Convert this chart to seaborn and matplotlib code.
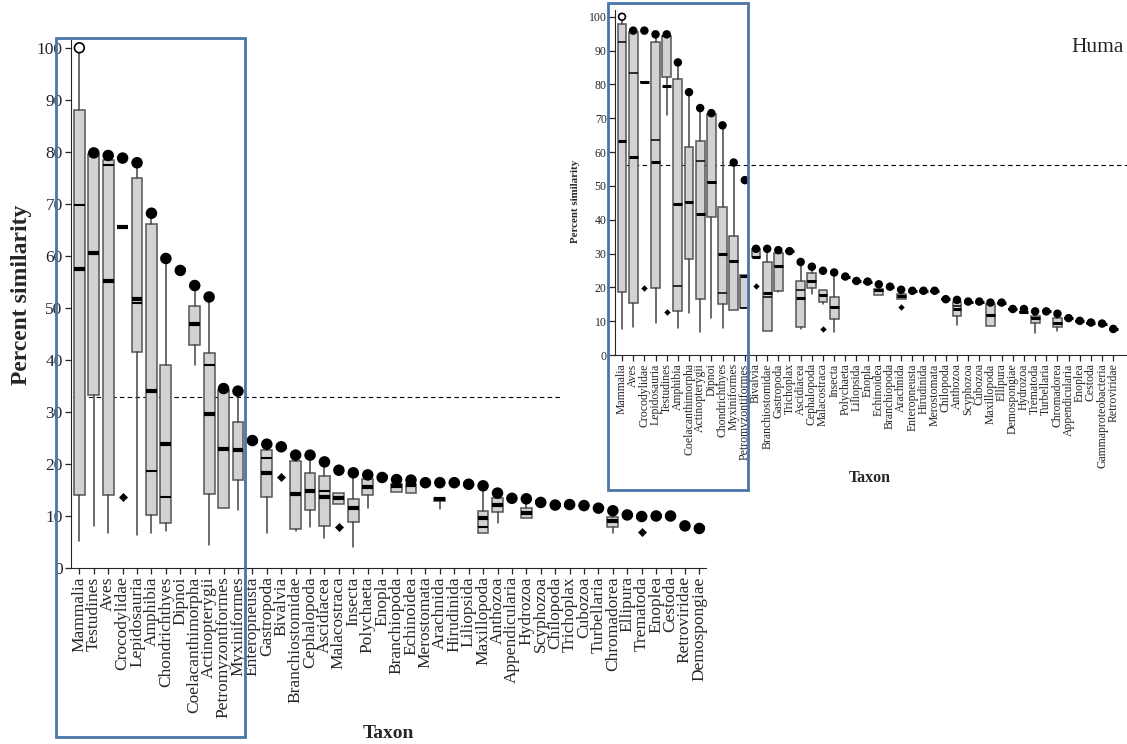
import numpy as np
import pandas as pd
import matplotlib
matplotlib.use("Agg")
import matplotlib.pyplot as plt
import seaborn as sns
from matplotlib.patches import Rectangle

# ---------------- left panel ----------------
left_taxa = ["Mammalia", "Testudines", "Aves", "Crocodylidae", "Lepidosauria", "Amphibia",
             "Chondrichthyes", "Dipnoi", "Coelacanthimorpha", "Actinopterygii",
             "Petromyzontiformes", "Myxiniformes", "Enteropneusta", "Gastropoda", "Bivalvia",
             "Branchiostomidae", "Cephalopoda", "Ascidiacea", "Malacostraca", "Insecta",
             "Polychaeta", "Enopla", "Branchiopoda", "Echinoidea", "Merostomata", "Arachnida",
             "Hirudinida", "Liliopsida", "Maxillopoda", "Anthozoa", "Appendicularia", "Hydrozoa",
             "Scyphozoa", "Chilopoda", "Trichoplax", "Cubozoa", "Turbellaria", "Chromadorea",
             "Ellipura", "Trematoda", "Enoplea", "Cestoda", "Retroviridae", "Demospongiae"]
left_top = [100, 79.8, 79.3, 78.8, 77.9, 68.2, 59.5, 57.2, 54.3, 52.1, 34.5, 34.0, 24.5, 23.8,
            23.3, 21.7, 21.7, 20.4, 18.8, 18.3, 17.9, 17.4, 17.0, 16.9, 16.4, 16.4, 16.4, 16.1,
            15.8, 14.4, 13.4, 13.3, 12.6, 12.1, 12.2, 12.0, 11.5, 11.0, 10.2, 9.9, 10.0, 10.0,
            8.1, 7.6]
left_open = ["Mammalia"]

left_box_taxa = ["Mammalia", "Testudines", "Aves", "Crocodylidae", "Lepidosauria", "Amphibia",
                 "Chondrichthyes", "Coelacanthimorpha", "Actinopterygii", "Petromyzontiformes",
                 "Myxiniformes", "Gastropoda", "Branchiostomidae", "Cephalopoda", "Ascidiacea",
                 "Malacostraca", "Insecta", "Polychaeta", "Branchiopoda", "Echinoidea",
                 "Arachnida", "Maxillopoda", "Anthozoa", "Hydrozoa", "Chromadorea"]
left_q1 = [14.0, 33.3, 14.0, 65.5, 41.6, 10.2, 8.7, 42.8, 14.2, 11.6, 16.9, 13.7, 7.5, 11.2,
           8.1, 12.3, 8.8, 14.0, 14.7, 14.4, 12.9, 6.7, 10.7, 9.7, 7.9]
left_q3 = [88.1, 79.5, 78.4, 65.5, 75.0, 66.2, 39.1, 50.4, 41.4, 34.2, 28.1, 22.7, 20.6, 18.2,
           17.7, 14.4, 13.2, 17.2, 16.2, 16.2, 13.4, 11.0, 13.4, 11.5, 9.9]
left_mean = [57.4, 60.6, 55.2, 65.5, 51.8, 34.1, 23.8, 46.9, 29.6, 22.9, 22.6, 18.3, 14.2, 14.8,
             13.6, 13.4, 11.6, 15.5, 15.8, 15.9, 13.2, 9.7, 12.1, 10.6, 9.1]
left_med = [69.7, 60.6, 77.5, 65.5, 50.9, 18.6, 13.6, 46.9, 39.1, 22.9, 22.6, 21.1, 14.2, 14.8,
            14.8, 13.4, 11.6, 15.5, 15.8, 15.9, 13.2, 7.9, 12.1, 10.6, 9.1]
left_lo = [5.2, 8.0, 6.8, 65.5, 6.4, 6.8, 7.1, 39.1, 4.5, 11.6, 11.2, 6.8, 7.2, 7.9, 5.7, 12.3,
           4.1, 11.5, 14.7, 14.4, 11.3, 6.7, 8.6, 9.7, 6.7]
left_hi = [100, 79.8, 79.3, 65.5, 77.9, 68.2, 59.5, 54.3, 52.1, 34.5, 34.0, 23.8, 21.7, 21.7,
           20.4, 14.4, 18.3, 17.9, 17.0, 16.9, 13.4, 15.8, 14.4, 13.3, 11.0]
left_out_taxa = ["Crocodylidae", "Bivalvia", "Malacostraca", "Trematoda"]
left_out = [13.6, 17.4, 7.9, 7.0]
left_ref = 32.9

# ---------------- right panel ----------------
right_taxa = ["Mammalia", "Aves", "Crocodylidae", "Lepidosauria", "Testudines", "Amphibia",
              "Coelacanthimorpha", "Actinopterygii", "Dipnoi", "Chondrichthyes", "Myxiniformes",
              "Petromyzontiformes", "Bivalvia", "Branchiostomidae", "Gastropoda", "Trichoplax",
              "Ascidiacea", "Cephalopoda", "Malacostraca", "Insecta", "Polychaeta", "Liliopsida",
              "Enopla", "Echinoidea", "Branchiopoda", "Arachnida", "Enteropneusta", "Hirudinida",
              "Merostomata", "Chilopoda", "Anthozoa", "Scyphozoa", "Cubozoa", "Maxillopoda",
              "Ellipura", "Demospongiae", "Hydrozoa", "Trematoda", "Turbellaria", "Chromadorea",
              "Appendicularia", "Enoplea", "Cestoda", "Gammaproteobacteria", "Retroviridae"]
right_top = [100, 95.9, 95.9, 94.8, 94.8, 86.5, 77.7, 73.0, 71.5, 67.9, 56.9, 51.7, 31.4, 31.4,
             31.0, 30.7, 27.5, 26.1, 24.9, 24.4, 23.2, 21.9, 21.7, 20.9, 20.2, 19.3, 19.0, 19.0,
             19.0, 16.5, 16.3, 15.8, 15.8, 15.5, 15.5, 13.6, 13.6, 12.9, 12.9, 12.2, 10.9, 10.1,
             9.6, 9.3, 7.7]
right_open = ["Mammalia"]

right_box_taxa = ["Mammalia", "Aves", "Crocodylidae", "Lepidosauria", "Testudines", "Amphibia",
                  "Coelacanthimorpha", "Actinopterygii", "Dipnoi", "Chondrichthyes",
                  "Myxiniformes", "Petromyzontiformes", "Bivalvia", "Branchiostomidae",
                  "Gastropoda", "Ascidiacea", "Cephalopoda", "Malacostraca", "Insecta",
                  "Echinoidea", "Arachnida", "Anthozoa", "Maxillopoda", "Hydrozoa", "Trematoda",
                  "Chromadorea"]
right_q1 = [18.5, 15.3, 80.7, 19.8, 82.3, 13.1, 28.5, 16.7, 40.9, 15.1, 13.4, 13.8, 29.1, 7.0,
            18.9, 8.2, 19.7, 15.8, 10.6, 17.8, 16.5, 11.6, 8.6, 12.6, 9.6, 8.4]
right_q3 = [98.0, 95.6, 80.7, 92.4, 94.4, 81.5, 61.4, 63.2, 71.2, 43.8, 35.1, 23.6, 31.2, 27.5,
            30.3, 21.9, 24.1, 19.2, 17.2, 19.6, 18.0, 15.7, 15.0, 12.6, 11.6, 10.8]
right_mean = [63.3, 58.5, 80.7, 57.2, 79.4, 44.6, 45.1, 41.6, 51.2, 29.8, 27.8, 23.4, 29.1, 18.2,
              26.3, 17.0, 21.9, 17.8, 14.3, 19.1, 17.5, 13.6, 11.9, 12.6, 10.8, 9.6]
right_med = [92.6, 83.5, 80.7, 63.5, 94.4, 20.4, 45.1, 57.3, 51.2, 18.2, 27.8, 13.8, 29.1, 17.2,
             26.3, 19.3, 21.9, 17.8, 14.3, 19.1, 17.5, 14.5, 11.9, 12.6, 10.8, 9.6]
right_lo = [7.7, 8.2, 80.7, 9.6, 71.0, 7.9, 12.4, 6.7, 10.8, 8.0, 13.4, 13.8, 29.1, 7.0, 18.5,
            7.8, 18.0, 15.0, 6.9, 17.8, 16.5, 8.8, 8.6, 12.6, 6.4, 7.2]
right_hi = [100, 95.9, 80.7, 94.8, 94.8, 86.5, 77.7, 73.0, 71.5, 67.9, 56.9, 23.6, 31.4, 31.4,
            31.0, 27.5, 26.1, 19.2, 24.4, 20.9, 19.3, 16.3, 15.5, 13.6, 12.9, 12.2]
right_out_taxa = ["Crocodylidae", "Testudines", "Bivalvia", "Malacostraca", "Arachnida"]
right_out = [19.7, 12.8, 20.4, 7.7, 14.3]
right_ref = 56.2

W, H = 1127, 744
BLUE = "#4a76a8"


def draw_panel(ax, taxa, top, open_taxa, box_taxa, q1, q3, mean, med, lo, hi,
               out_taxa, out_vals, ref, ref_end, width, thick, thin, dot_s, out_s, fs):
    n = len(taxa)
    stats = []
    for t, v in zip(taxa, top):
        if t in box_taxa:
            j = box_taxa.index(t)
            stats.append(dict(q1=q1[j], q3=q3[j], mean=mean[j], med=med[j],
                              whislo=lo[j], whishi=hi[j], fliers=[]))
        else:
            # taxa with a single value: only the marker and a bar at that value
            stats.append(dict(q1=v, q3=v, mean=v, med=v, whislo=v, whishi=v, fliers=[]))

    ax.bxp(stats, positions=range(n), widths=width, patch_artist=True,
           showmeans=True, meanline=True, showcaps=False, showfliers=False,
           manage_ticks=False,
           boxprops=dict(facecolor="#d2d2d2", edgecolor="#555555", linewidth=1.1),
           whiskerprops=dict(color="#444444", linewidth=1.1),
           medianprops=dict(color="black", linewidth=thin),
           meanprops=dict(color="black", linewidth=thick, linestyle="-"))

    dots = pd.DataFrame({"x": np.arange(n), "top": top,
                         "fill": ["white" if t in open_taxa else "black" for t in taxa]})
    sns.scatterplot(data=dots, x="x", y="top", hue="fill",
                    palette={"white": "white", "black": "black"},
                    edgecolor="black", linewidth=1.2, s=dot_s, legend=False, ax=ax, zorder=5)
    outs = pd.DataFrame({"x": [taxa.index(t) for t in out_taxa], "y": out_vals})
    sns.scatterplot(data=outs, x="x", y="y", marker="D", color="black", s=out_s,
                    edgecolor="black", legend=False, ax=ax, zorder=5)

    ax.hlines(ref, -1, ref_end if ref_end else n + 5,
              colors="black", linestyles=(0, (4, 3)), linewidth=0.8, zorder=1)

    ax.set_xticks(range(n))
    ax.set_xticklabels(taxa, rotation=90, fontsize=fs)
    ax.set_yticks(range(0, 101, 10))
    ax.tick_params(axis="y", labelsize=fs)
    ax.tick_params(axis="both", direction="out", length=4, width=0.9, pad=2)
    ax.set_xlabel("")
    ax.set_ylabel("")
    ax.set_facecolor("none")
    sns.despine(ax=ax)


sns.set_style("ticks")
plt.rcParams["font.family"] = ["Liberation Serif", "DejaVu Serif"]

fig = plt.figure(figsize=(W / 100, H / 100), dpi=100)

# left axes: spine x 71..706, y 40..568
ax1 = fig.add_axes([71 / W, 1 - 568 / H, (706 - 71) / W, (568 - 40) / H])
draw_panel(ax1, left_taxa, left_top, left_open, left_box_taxa, left_q1, left_q3, left_mean,
           left_med, left_lo, left_hi, left_out_taxa, left_out, left_ref, 33.3,
           0.75, 3.0, 1.5, 50, 18, 12.5)
ax1.set_xlim(-0.58, 43.46)
ax1.set_ylim(0, 101.5)

# right axes: spine x 615..right edge, y 10..355
ax2 = fig.add_axes([615 / W, 1 - 355 / H, (W - 615) / W, (355 - 10) / H])
draw_panel(ax2, right_taxa, right_top, right_open, right_box_taxa, right_q1, right_q3,
           right_mean, right_med, right_lo, right_hi, right_out_taxa, right_out, right_ref, None,
           0.8, 2.2, 1.1, 24, 9, 8.5)
ax2.set_xlim(-0.63, 45.23)
ax2.set_ylim(0, 102)

# axis titles
fig.text(22 / W, 1 - 295 / H, "Percent similarity", rotation=90, ha="center", va="center",
         fontsize=17, fontweight="bold")
fig.text(388 / W, 1 - 733 / H, "Taxon", ha="center", va="center", fontsize=14, fontweight="bold")
fig.text(575 / W, 1 - 201 / H, "Percent similarity", rotation=90, ha="center", va="center",
         fontsize=7.8, fontweight="bold")
fig.text(870 / W, 1 - 478 / H, "Taxon", ha="center", va="center", fontsize=11.5, fontweight="bold")
fig.text(1071 / W, 1 - 48 / H, "Huma", ha="left", va="center", fontsize=15.5)

# highlight boxes
for x0, y0, x1, y1 in [(56, 38, 245, 737), (608, 3, 748, 490)]:
    fig.add_artist(Rectangle((x0 / W, 1 - y1 / H), (x1 - x0) / W, (y1 - y0) / H,
                             transform=fig.transFigure, fill=False, edgecolor=BLUE,
                             linewidth=2.0, zorder=10))

fig.savefig("out.png", dpi=100)
